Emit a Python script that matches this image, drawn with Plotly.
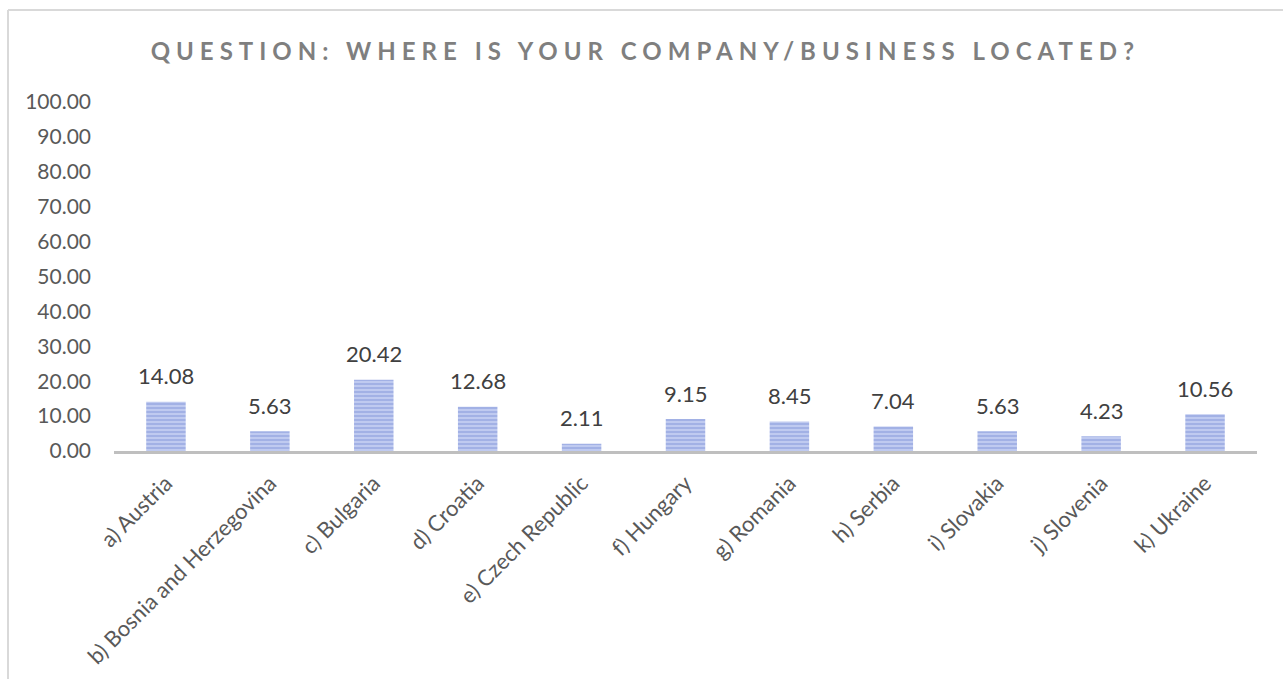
import plotly.graph_objects as go

categories = [
    "a) Austria", "b) Bosnia and Herzegovina", "c) Bulgaria", "d) Croatia",
    "e) Czech Republic", "f) Hungary", "g) Romania", "h) Serbia",
    "i) Slovakia", "j) Slovenia", "k) Ukraine",
]
shares = [14.08, 5.63, 20.42, 12.68, 2.11, 9.15, 8.45, 7.04, 5.63, 4.23, 10.56]
y_ticks = [0, 10, 20, 30, 40, 50, 60, 70, 80, 90, 100]

FONT = "Lato"
W, H = 1283, 679
L, R, T, B = 114, 26, 102, 228

fig = go.Figure(
    go.Bar(
        x=categories,
        y=shares,
        marker=dict(
            color="#bfcaf0",
            line=dict(width=0),
            pattern=dict(shape="-", fgcolor="#7f93d8", size=4, solidity=0.45),
        ),
        hoverinfo="x+y",
    )
)

# value labels above each bar
for cat, v in zip(categories, shares):
    fig.add_annotation(
        x=cat, y=v, text=f"{v:.2f}", showarrow=False,
        yanchor="middle", yshift=26,
        font=dict(family=FONT, size=22, color="#404040"),
    )

pw = W - L - R
ph = H - T - B

fig.update_layout(
    width=W,
    height=H,
    margin=dict(l=L, r=R, t=T, b=B, autoexpand=False),
    paper_bgcolor="white",
    plot_bgcolor="white",
    showlegend=False,
    bargap=0.62,
    title=dict(
        text='<span style="letter-spacing:6px">QUESTION: WHERE IS YOUR COMPANY/BUSINESS LOCATED?</span>',
        x=0.503,
        xanchor="center",
        y=1 - 52 / H,
        yanchor="middle",
        font=dict(family=FONT, size=24, color="#7f7f7f", weight="bold"),
    ),
    xaxis=dict(
        showgrid=False,
        tickangle=-45,
        tickfont=dict(family=FONT, size=22, color="#595959"),
        showline=True,
        linecolor="#bfbfbf",
        linewidth=2.5,
        ticks="",
        ticklabelstandoff=8,
        zeroline=False,
    ),
    yaxis=dict(
        range=[0, 100],
        tickvals=y_ticks,
        tickformat=".2f",
        showgrid=False,
        zeroline=False,
        showline=False,
        ticks="",
        ticklabelstandoff=22,
        tickfont=dict(family=FONT, size=21, color="#595959"),
    ),
    shapes=[
        # chart frame: left and top edges
        dict(type="line", xref="paper", yref="paper",
             x0=(8 - L) / pw, x1=(8 - L) / pw,
             y0=(H - B - 10) / ph, y1=-1,
             line=dict(color="#d9d9d9", width=2)),
        dict(type="line", xref="paper", yref="paper",
             x0=(8 - L) / pw, x1=2,
             y0=(H - B - 10) / ph, y1=(H - B - 10) / ph,
             line=dict(color="#d9d9d9", width=2)),
    ],
)

fig.write_html("out.html")
